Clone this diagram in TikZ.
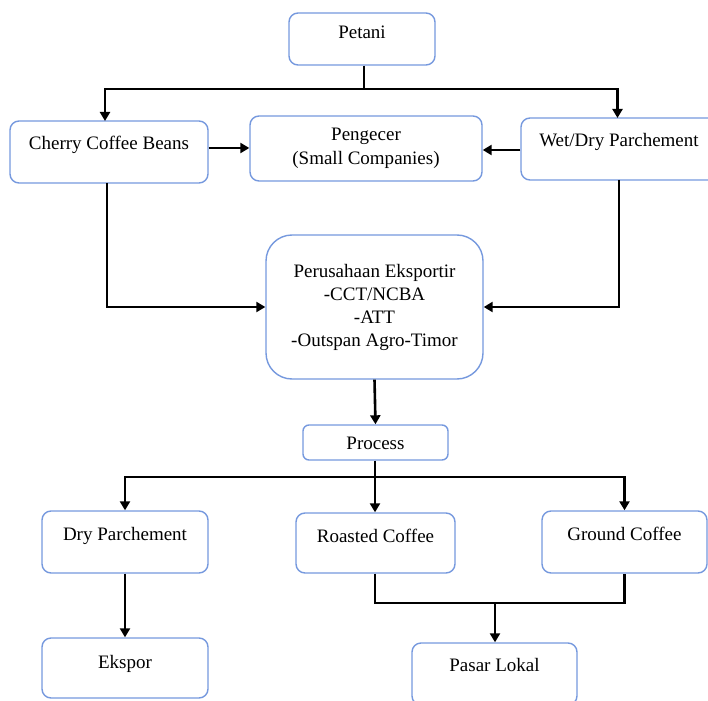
\documentclass[tikz,border=0pt]{standalone}
\usepackage{fontspec}
\setmainfont{Liberation Serif}
\usetikzlibrary{arrows.meta}
\definecolor{boxblue}{RGB}{118,153,222}
\tikzset{
  x=1pt, y=-1pt,
  box/.style={draw=boxblue, line width=1.4pt, rounded corners=9pt, fill=white,
    align=center, inner sep=0pt, text height=13pt,
    font=\fontsize{19pt}{23.3pt}\selectfont},
  conn/.style={line width=2.6pt, black},
  arr/.style={conn, -{Triangle[length=9pt,width=10pt]}},
}
\begin{document}
\begin{tikzpicture}
\useasboundingbox (0,0) rectangle (708,700);
\begin{scope}
\clip (0,0) rectangle (708,700);
% boxes (center x, center y)
\node[box, minimum width=146pt, minimum height=52pt, text depth=13pt] (petani) at (362,39) {Petani};
\node[box, minimum width=198pt, minimum height=62pt, text depth=17pt] (cherry) at (109,152) {Cherry Coffee Beans};
\node[box, minimum width=232pt, minimum height=65pt, text height=36.3pt, text depth=5pt] (peng) at (366,148.5) {Pengecer\\(Small Companies)};
\node[box, minimum width=196pt, minimum height=62pt, text depth=17pt] (wet) at (619,149) {Wet/Dry Parchement};
\node[box, rounded corners=26pt, minimum width=217pt, minimum height=144pt, text height=82.9pt, text depth=3pt] (exp) at (374.5,307) {Perusahaan Eksportir\\-CCT/NCBA\\-ATT\\-Outspan Agro-Timor};
\node[box, rounded corners=6pt, minimum width=145pt, minimum height=35pt, text depth=0pt] (proc) at (375.5,442.5) {Process};
\node[box, minimum width=166pt, minimum height=62pt, text depth=17pt] (dry) at (125,542) {Dry Parchement};
\node[box, minimum width=159pt, minimum height=60pt, text depth=15pt] (roast) at (375.5,543) {Roasted Coffee};
\node[box, minimum width=165pt, minimum height=62pt, text depth=17pt] (ground) at (624.5,542) {Ground Coffee};
\node[box, minimum width=166pt, minimum height=60pt, text depth=13pt] (ekspor) at (125,668) {Ekspor};
\node[box, minimum width=165pt, minimum height=62pt, text depth=19pt] (pasar) at (494.5,674) {Pasar Lokal};

% coordinates
\coordinate (pt) at (364,89);
\coordinate (pc) at (375,477);
\coordinate (rg) at (495,603);

% connectors
\draw[conn] (petani.south -| pt) -- (pt);
\draw[arr] (pt) -| (105,121);
\draw[arr] (pt) -| (617.5,118);
\draw[arr] (cherry.east |- 0,148) -- (peng.west |- 0,148);
\draw[arr] (wet.west |- 0,150) -- (peng.east |- 0,150);
\draw[arr] (107,183) |- (exp.west);
\draw[arr] (619,180) |- (exp.east);
\draw[arr] (exp.south) -- (proc.north);
\draw[conn] (proc.south -| pc) -- (pc);
\draw[arr] (pc) -| (dry.north);
\draw[arr] (pc) -- (roast.north -| pc);
\draw[arr] (pc) -| (ground.north);
\draw[arr] (dry.south) -- (ekspor.north);
\draw[conn] (roast.south -| pc) |- (rg) -| (ground.south);
\draw[arr] (rg) -- (pasar.north -| rg);
\end{scope}
\end{tikzpicture}
\end{document}
